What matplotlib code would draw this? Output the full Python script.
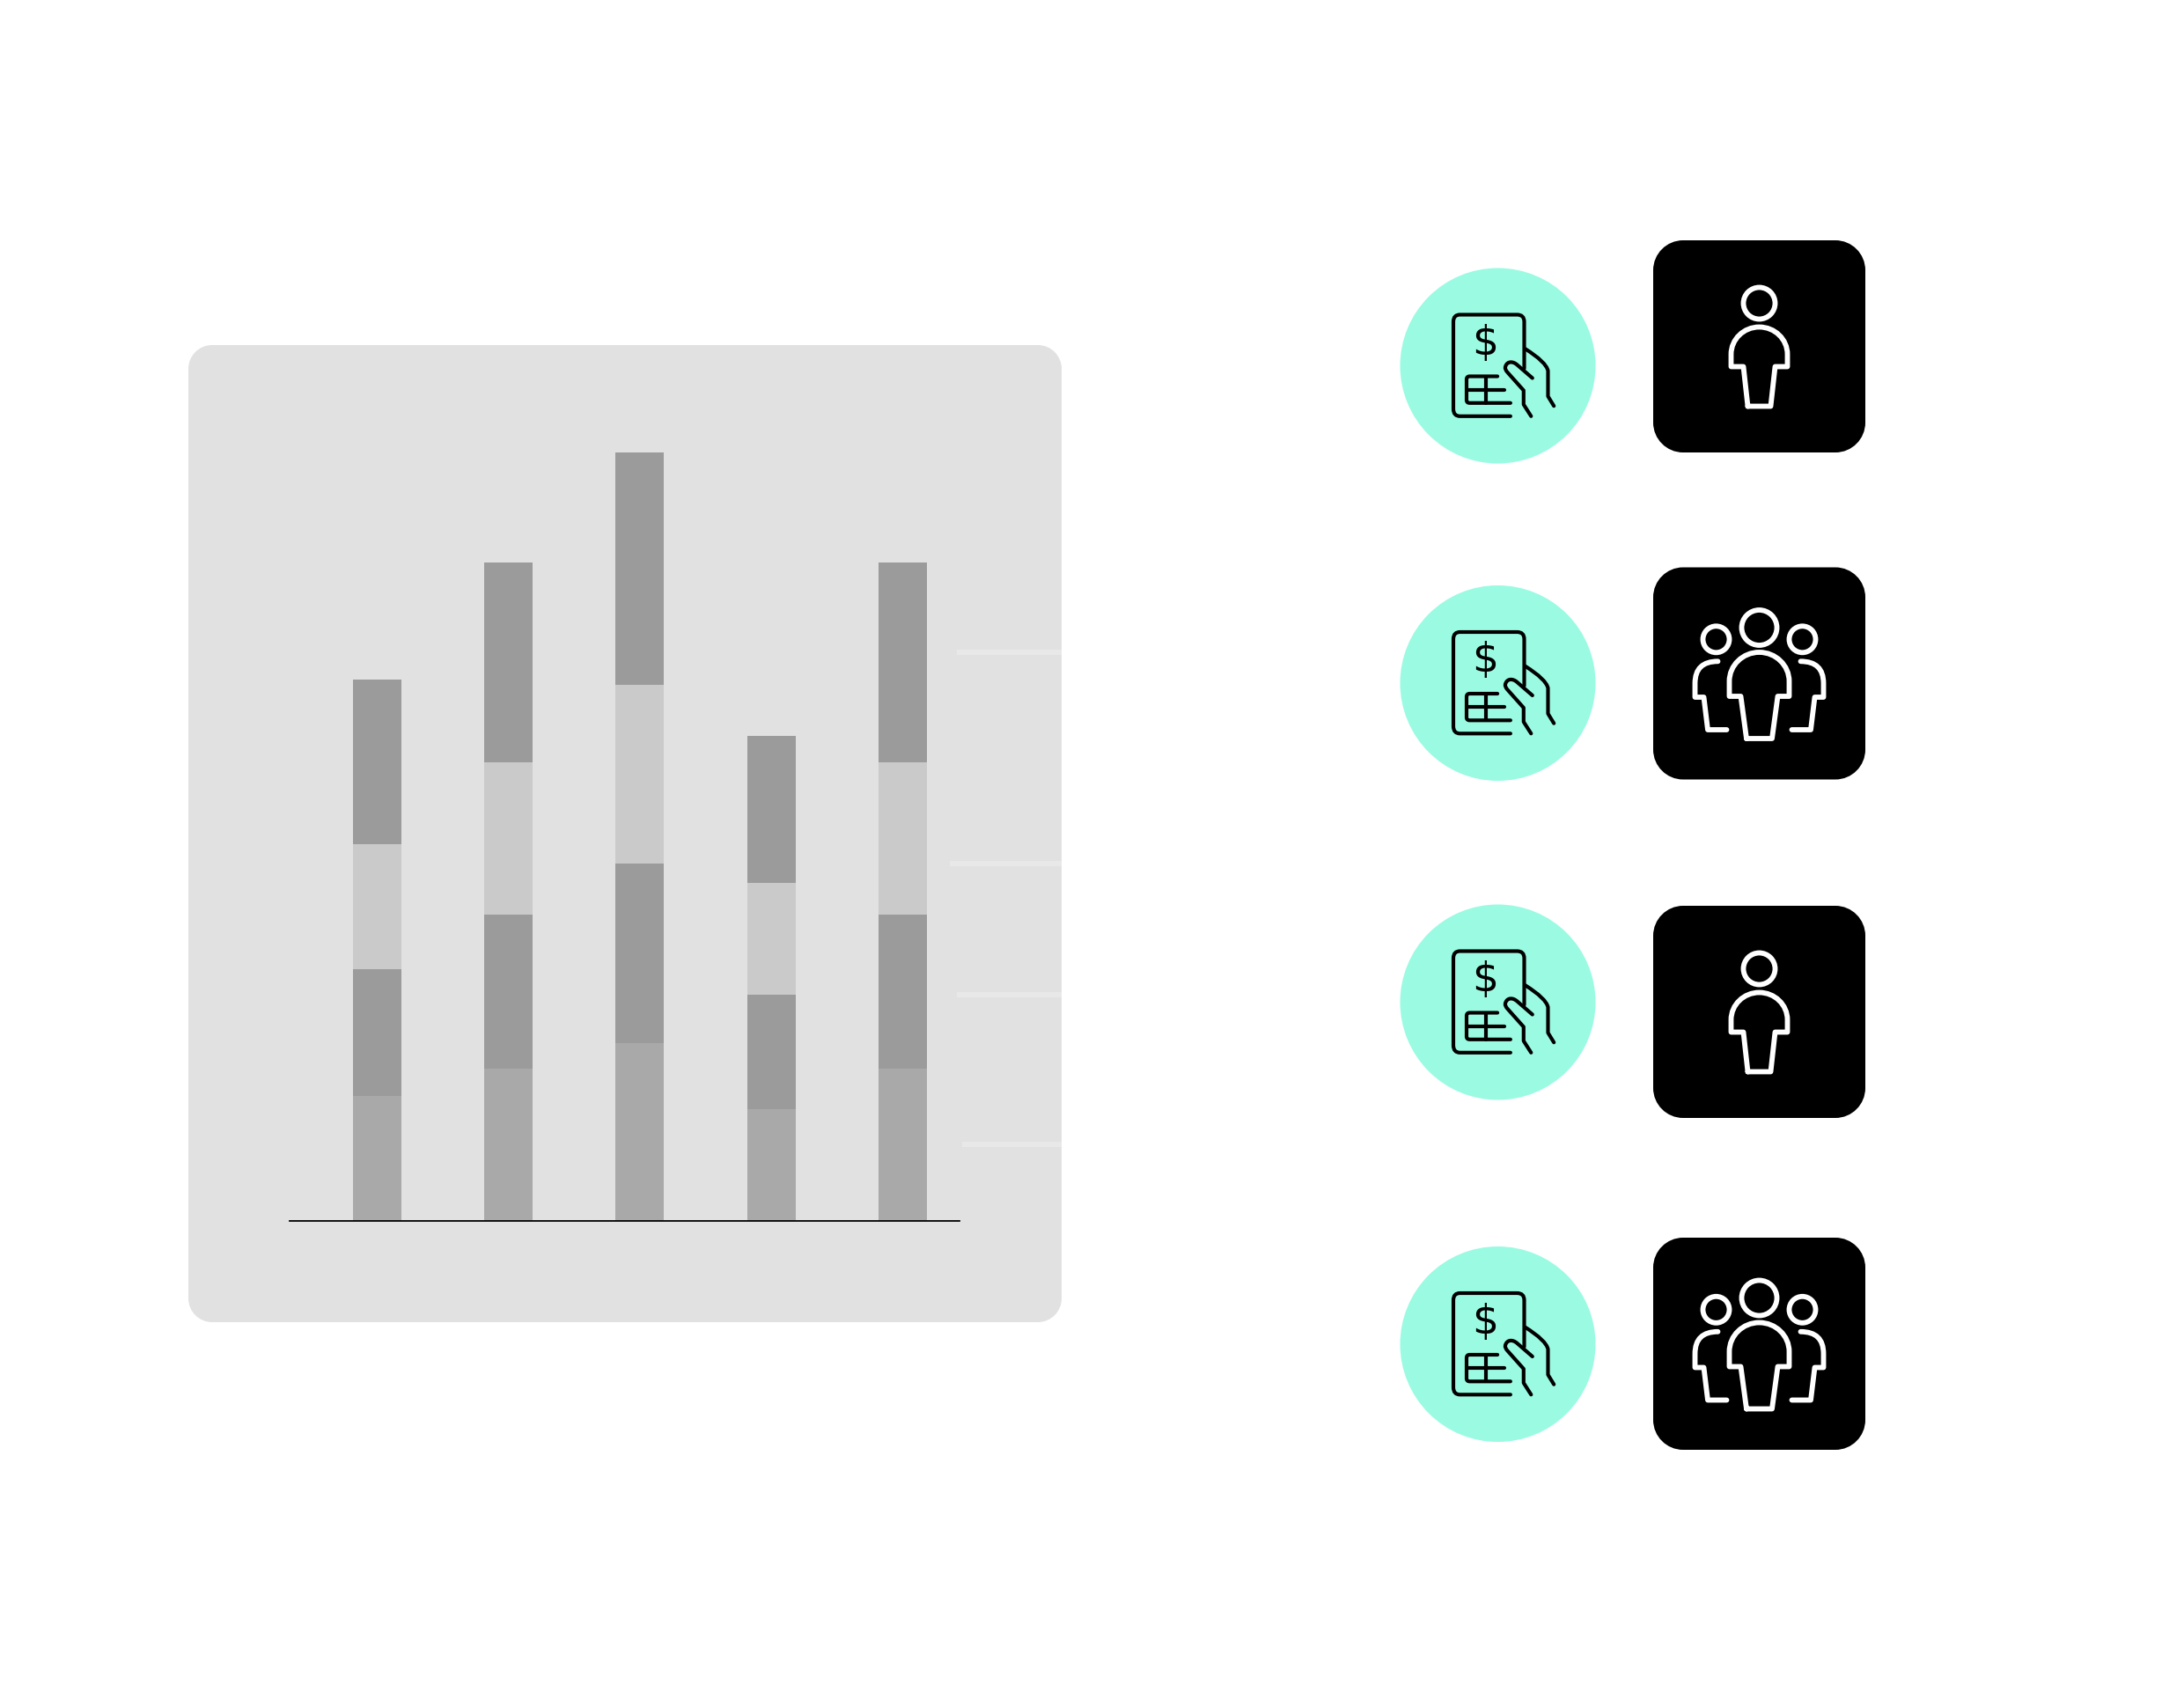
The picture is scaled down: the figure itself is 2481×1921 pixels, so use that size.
import numpy as np
import matplotlib
matplotlib.use("Agg")
import matplotlib.pyplot as plt
from matplotlib.patches import Circle, Ellipse, PathPatch
from matplotlib.path import Path

W, H = 2481, 1921

# Stacked bar values, bottom to top
seg1 = [142, 173, 202, 127, 173]
seg2 = [144, 175, 204, 130, 175]
seg3 = [142, 173, 203, 127, 173]
seg4 = [187, 227, 264, 167, 227]
seg_colors = ["#a9a9a9", "#9b9b9b", "#cacaca", "#9b9b9b"]

# Faint grid stubs on the right of the panel: (left x, y)
stub_left = [1087, 1079, 1087, 1093]
stub_y = [741, 981, 1130, 1300]

# Icon rows
circle_y = [415.5, 776, 1138.5, 1527]
box_y = [393.5, 765, 1149.5, 1526.5]
group_row = [False, True, False, True]

MINT = "#9afbe2"
M, L, C = Path.MOVETO, Path.LINETO, Path.CURVE3
C4 = Path.CURVE4
WHITE_LW = 4.2

fig = plt.figure(figsize=(W / 100, H / 100), dpi=100, facecolor="white")

# Pixel axes for panel and icons
ax = fig.add_axes([0, 0, 1, 1])
ax.set_xlim(0, W)
ax.set_ylim(H, 0)
ax.axis("off")


def rounded(x0, y0, x1, y1, r, color, z=1):
    # true circular corners, the bbox patch comes out too square
    k = r * 0.4477
    verts = [(x0 + r, y0), (x1 - r, y0), (x1 - k, y0), (x1, y0 + k), (x1, y0 + r),
             (x1, y1 - r), (x1, y1 - k), (x1 - k, y1), (x1 - r, y1),
             (x0 + r, y1), (x0 + k, y1), (x0, y1 - k), (x0, y1 - r),
             (x0, y0 + r), (x0, y0 + k), (x0 + k, y0), (x0 + r, y0)]
    codes = [M, L, C4, C4, C4, L, C4, C4, C4, L, C4, C4, C4, L, C4, C4, C4]
    ax.add_patch(PathPatch(Path(verts, codes), fc=color, ec="none", zorder=z))


def stroke(cx, cy, verts, codes, color, lw):
    v = np.array(verts, dtype=float) + [cx, cy]
    ax.add_patch(PathPatch(Path(v, codes), fc="none", ec=color, lw=lw,
                           capstyle="round", joinstyle="round", zorder=4))


def doc_icon(cx, cy):
    ax.add_patch(Circle((cx, cy), 111, fc=MINT, ec="none", zorder=3))
    lw = 3.0
    # card outline, open at the bottom right
    stroke(cx, cy, [(14.4, 57.3), (-43, 57.3), (-50.5, 57.3), (-50.5, 49), (-50.5, -50),
                    (-50.5, -58), (-43, -58), (22, -58), (30, -58), (30, -50), (30, 3)],
           [M, L, C, C, L, C, C, L, C, C, L], "black", lw)
    # table
    stroke(cx, cy, [(-0.4, 12), (-32, 12), (-35.5, 12), (-35.5, 15.5), (-35.5, 39),
                    (-35.5, 42.3), (-32, 42.3), (14.4, 42.3)],
           [M, L, C, C, L, C, C, L], "black", lw)
    stroke(cx, cy, [(-35.5, 27), (7, 27)], [M, L], "black", lw)
    stroke(cx, cy, [(-13.3, 12), (-13.3, 42.3)], [M, L], "black", lw)
    # finger, rounded tip
    stroke(cx, cy, [(39.3, 14), (22, -1), (17, -5.5), (11, -5), (9, 0), (7.5, 3), (9, 5), (11, 7.5),
                    (29.3, 28), (29.3, 44), (37.8, 57.3)],
           [M, L, C4, C4, C4, C4, C4, C4, L, L, L], "black", lw)
    # back of the hand
    stroke(cx, cy, [(31, -19.3), (55, -4.3), (57, 5.7), (57, 34.7), (63.7, 45.7)],
           [M, C, C, L, L], "black", lw)
    ax.text(cx - 14, cy - 25, "\\$", fontsize=34, color="black", ha="center", va="center",
            family="DejaVu Sans", zorder=4)


def head(cx, cy, x, y, r):
    ax.add_patch(Ellipse((cx + x, cy + y), 2 * r, 2 * r, fc="none", ec="white", lw=WHITE_LW, zorder=4))


def body(cx, cy, hw, ytop, yarc, yshoulder, xneck, xfoot, yfoot):
    k = 0.5523
    rh = yarc - ytop
    verts = [(-xfoot, yfoot), (-xneck, yshoulder), (-hw, yshoulder), (-hw, yarc),
             (-hw, yarc - k * rh), (-k * hw, ytop), (0, ytop),
             (k * hw, ytop), (hw, yarc - k * rh), (hw, yarc),
             (hw, yshoulder), (xneck, yshoulder), (xfoot, yfoot), (-xfoot, yfoot)]
    codes = [M, L, L, L, C4, C4, C4, C4, C4, C4, L, L, L, L]
    stroke(cx, cy, verts, codes, "white", WHITE_LW)


def person_icon(cx, cy):
    head(cx, cy, 0, -49, 18)
    body(cx, cy, 32, -22, 9, 23, 18, 13, 68)


def group_icon(cx, cy):
    head(cx, cy, 0, -52, 20)
    body(cx, cy, 34, -24, 9, 26, 21, 14.5, 74)
    for s, hx in [(-1, -49), (1, 49)]:
        head(cx, cy, hx, -38.7, 15)
        verts = [(s * 47, -13.7), (s * 73, -13.7), (s * 73, 11.3), (s * 73, 27),
                 (s * 63, 27), (s * 58.5, 64), (s * 37, 64)]
        stroke(cx, cy, verts, [M, C, C, L, L, L, L], "white", WHITE_LW)


# Grey panel
rounded(214, 392, 1206, 1502, 27, "#e1e1e1")
for x0, y in zip(stub_left, stub_y):
    ax.plot([x0, 1206], [y, y], color="#e8e8e8", lw=4.5, solid_capstyle="butt", zorder=2)

# Icons
for cy, by, grp in zip(circle_y, box_y, group_row):
    doc_icon(1701.5, cy)
    rounded(1878, by - 120.5, 2119, by + 120.5, 34, "black", 3)
    if grp:
        group_icon(1998.5, by)
    else:
        person_icon(1998.5, by)

# Bars, axes bottom sits on the baseline
ax2 = fig.add_axes([329 / W, 1 - 1387 / H, (1090 - 329) / W, 1000 / H])
ax2.patch.set_alpha(0)
ax2.set_xlim(-0.666, 4.432)
ax2.set_ylim(0, 1000)
x = np.arange(5)
bottom = np.zeros(5)
for seg, col in zip([seg1, seg2, seg3, seg4], seg_colors):
    ax2.bar(x, seg, width=0.368, bottom=bottom, color=col, linewidth=0)
    bottom = bottom + np.array(seg)
for s in ["top", "left", "right"]:
    ax2.spines[s].set_visible(False)
ax2.spines["bottom"].set_color("black")
ax2.spines["bottom"].set_linewidth(1.3)
ax2.set_xticks([])
ax2.set_yticks([])

fig.savefig("out.png", dpi=100)
